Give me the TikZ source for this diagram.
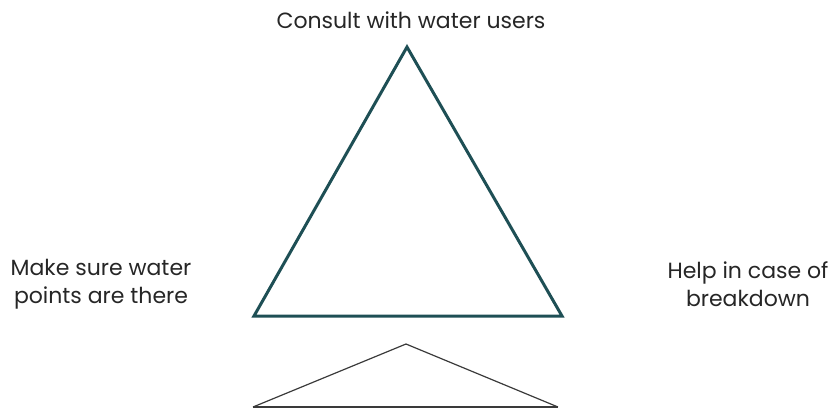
\documentclass[tikz,border=0pt]{standalone}
\usepackage{fontspec}
\setmainfont{Poppins}
\definecolor{teal}{HTML}{1E4F55}
\definecolor{thin}{HTML}{3A3A3A}
\begin{document}
\begin{tikzpicture}[x=1pt,y=-1pt,
  lbl/.style={font=\fontsize{22}{28}\selectfont, align=center, text=black!85, inner sep=0pt},
  bigtri/.style={draw=teal, line width=3pt, line join=miter},
  smalltri/.style={draw=thin, line width=1.2pt}]
\useasboundingbox (0,0) rectangle (835,408);
\coordinate (A) at (407,47);
\coordinate (B) at (254,316);
\coordinate (C) at (562,316);
\draw[bigtri] (A) -- (B) -- (C) -- cycle;
\coordinate (D) at (406,344);
\coordinate (E) at (253,407);
\coordinate (F) at (558,407);
\draw[smalltri] (E) -- (D) -- (F);
\draw[smalltri] (E) -- (F);
\node[lbl] (top) at (411,20) {Consult with water users};
\node[lbl] (left) at (101,284) {Make sure water\\points are there};
\node[lbl] (right) at (748,284) {Help in case of\\breakdown};
\end{tikzpicture}
\end{document}
